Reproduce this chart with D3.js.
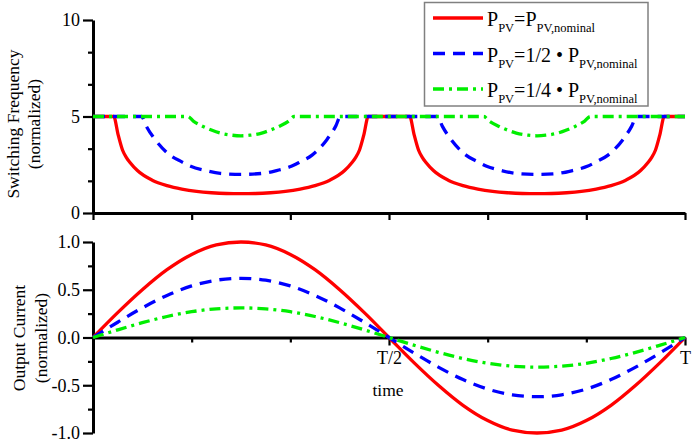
<!DOCTYPE html>
<html><head><meta charset="utf-8">
<script src="https://cdn.jsdelivr.net/npm/d3@7/dist/d3.min.js"></script>
<style>
body{margin:0;background:#fff}
svg{display:block}
text{font-family:"Liberation Serif","Times New Roman",serif;fill:#000}
</style>
</head><body>
<svg id="chart" width="700" height="448"></svg>
<script>
// ---------- data (time as fraction of period T) ----------
const timeRedTop = [0,0.035,0.0425,0.05,0.0565,0.0625,0.075,0.1,0.125,0.15,0.175,0.2,0.225,0.25,0.275,0.3,0.325,0.35,0.375,0.4,0.425,0.4375,0.4435,0.45,0.4575,0.465,0.5,
  0.535,0.5425,0.55,0.5565,0.5625,0.575,0.6,0.625,0.65,0.675,0.7,0.725,0.75,0.775,0.8,0.825,0.85,0.875,0.9,0.925,0.9375,0.9435,0.95,0.9575,0.965,1.0];
const freqRed = [5,5,4.05,3.25,2.87,2.62,2.2,1.70,1.42,1.24,1.12,1.05,1.01,1.00,1.01,1.05,1.12,1.24,1.42,1.70,2.2,2.62,2.87,3.25,4.05,5,5,
  5,4.05,3.25,2.87,2.62,2.2,1.70,1.42,1.24,1.12,1.05,1.01,1.00,1.01,1.05,1.12,1.24,1.42,1.70,2.2,2.62,2.87,3.25,4.05,5,5];

const timeBlueTop = [0,0.082,0.09,0.105,0.13,0.15,0.165,0.19,0.215,0.25,0.285,0.31,0.335,0.35,0.37,0.395,0.41,0.418,0.5,
  0.582,0.59,0.605,0.63,0.65,0.665,0.69,0.715,0.75,0.785,0.81,0.835,0.85,0.87,0.895,0.91,0.918,1.0];
const freqBlue = [5,5,4.5,3.8,3.0,2.65,2.42,2.2,2.05,2.0,2.05,2.2,2.42,2.65,3.0,3.8,4.5,5,5,
  5,4.5,3.8,3.0,2.65,2.42,2.2,2.05,2.0,2.05,2.2,2.42,2.65,3.0,3.8,4.5,5,5];

const timeGreenTop = [0,0.16,0.17,0.185,0.2,0.215,0.235,0.25,0.265,0.285,0.3,0.315,0.33,0.34,0.5,
  0.66,0.67,0.685,0.7,0.715,0.735,0.75,0.765,0.785,0.8,0.815,0.83,0.84,1.0];
const freqGreen = [5,5,4.75,4.5,4.3,4.14,4.03,4.0,4.03,4.14,4.3,4.5,4.75,5,5,
  5,4.75,4.5,4.3,4.14,4.03,4.0,4.03,4.14,4.3,4.5,4.75,5,5];

const timeBottom = [0,0.0417,0.0833,0.125,0.1667,0.2083,0.25,0.2917,0.3333,0.375,0.4167,0.4583,0.5,
  0.5417,0.5833,0.625,0.6667,0.7083,0.75,0.7917,0.8333,0.875,0.9167,0.9583,1.0];
const currentRed = [0,0.26,0.50,0.71,0.87,0.97,1.00,0.97,0.87,0.71,0.50,0.26,0,
  -0.26,-0.50,-0.71,-0.87,-0.97,-1.00,-0.97,-0.87,-0.71,-0.50,-0.26,0];
const currentBlue = [0,0.16,0.31,0.44,0.54,0.60,0.62,0.60,0.54,0.44,0.31,0.16,0,
  -0.16,-0.31,-0.44,-0.54,-0.60,-0.62,-0.60,-0.54,-0.44,-0.31,-0.16,0];
const currentGreen = [0,0.08,0.155,0.22,0.27,0.30,0.31,0.30,0.27,0.22,0.155,0.08,0,
  -0.08,-0.155,-0.22,-0.27,-0.30,-0.31,-0.30,-0.27,-0.22,-0.155,-0.08,0];

const xTicks = [0,1/6,2/6,3/6,4/6,5/6,1];
const xMajorTicks = [0.5,1];
const xMajorLabels = ["T/2","T"];
const yTopMajor = [0,5,10];
const yTopMinor = [5/3,10/3,20/3,25/3];
const yBotMajor = [-1,-0.5,0,0.5,1];
const yBotLabels = ["-1.0","-0.5","0.0","0.5","1.0"];
const yBotMinor = [-0.75,-0.25,0.25,0.75];

const seriesNames = ["=P", "=1/2 \u2022 P", "=1/4 \u2022 P"];
const seriesColors = ["#ff0000","#0000ff","#00ee00"];
const seriesDash = [null, "12,8", "11,5,3,5"];

// ---------- drawing ----------
const svg = d3.select("#chart");
const x = d3.scaleLinear().domain([0,1]).range([93,685]);
const yTop = d3.scaleLinear().domain([0,10]).range([213,20]);
const yBot = d3.scaleLinear().domain([-1,1]).range([433,242]);

function styleAxis(g){
  g.select(".domain").attr("stroke","#000").attr("stroke-width",3);
  g.selectAll(".tick line").attr("stroke","#000").attr("stroke-width",2.2);
  g.selectAll(".tick text").attr("font-size",18).attr("font-family",'"Liberation Serif","Times New Roman",serif').attr("fill","#000");
}

// top panel axes
svg.append("g").attr("transform","translate(0,213)")
  .call(d3.axisBottom(x).tickValues(xTicks).tickSize(7).tickSizeOuter(0).tickFormat(""))
  .call(styleAxis);
svg.append("g").attr("transform","translate(93,0)")
  .call(d3.axisLeft(yTop).tickValues(yTopMinor).tickSize(5).tickSizeOuter(0).tickFormat(""))
  .call(g=>g.select(".domain").remove()).call(styleAxis);
svg.append("g").attr("transform","translate(93,0)")
  .call(d3.axisLeft(yTop).tickValues(yTopMajor).tickSize(10).tickPadding(3).tickSizeOuter(0).tickFormat(d3.format("d")))
  .call(styleAxis);

// bottom panel axes
svg.append("g").attr("transform",`translate(0,${yBot(0)})`)
  .call(d3.axisBottom(x).tickValues(xTicks.filter(t=>!xMajorTicks.includes(t))).tickSize(5).tickSizeOuter(0).tickFormat(""))
  .call(styleAxis);
svg.append("g").attr("transform",`translate(0,${yBot(0)})`)
  .call(d3.axisBottom(x).tickValues(xMajorTicks).tickSize(8).tickPadding(6).tickSizeOuter(0)
    .tickFormat((d,i)=>xMajorLabels[i]))
  .call(g=>g.select(".domain").remove()).call(styleAxis);
svg.append("g").attr("transform","translate(93,0)")
  .call(d3.axisLeft(yBot).tickValues(yBotMinor).tickSize(5).tickSizeOuter(0).tickFormat(""))
  .call(g=>g.select(".domain").remove()).call(styleAxis);
svg.append("g").attr("transform","translate(93,0)")
  .call(d3.axisLeft(yBot).tickValues(yBotMajor).tickSize(10).tickPadding(3).tickSizeOuter(0)
    .tickFormat((d,i)=>yBotLabels[i]))
  .call(styleAxis);

// curves
const topSeries = [d3.zip(timeRedTop,freqRed), d3.zip(timeBlueTop,freqBlue), d3.zip(timeGreenTop,freqGreen)];
const botSeries = [d3.zip(timeBottom,currentRed), d3.zip(timeBottom,currentBlue), d3.zip(timeBottom,currentGreen)];
const lineTop = d3.line().x(d=>x(d[0])).y(d=>yTop(d[1])).curve(d3.curveMonotoneX);
const lineBot = d3.line().x(d=>x(d[0])).y(d=>yBot(d[1])).curve(d3.curveMonotoneX);
topSeries.forEach((s,i)=>{
  svg.append("path").attr("d",lineTop(s)).attr("fill","none")
    .attr("stroke",seriesColors[i]).attr("stroke-width",3.3)
    .attr("stroke-dasharray",seriesDash[i]);
});
botSeries.forEach((s,i)=>{
  svg.append("path").attr("d",lineBot(s)).attr("fill","none")
    .attr("stroke",seriesColors[i]).attr("stroke-width",3.3)
    .attr("stroke-dasharray",seriesDash[i]);
});

// axis titles
const t1 = svg.append("g").attr("transform","translate(0,124) rotate(-90)");
t1.append("text").attr("x",0).attr("y",19).attr("text-anchor","middle").attr("font-size",17.5).text("Switching Frequency");
t1.append("text").attr("x",0).attr("y",40).attr("text-anchor","middle").attr("font-size",17.5).text("(normalized)");
const t2 = svg.append("g").attr("transform","translate(0,338) rotate(-90)");
t2.append("text").attr("x",0).attr("y",25).attr("text-anchor","middle").attr("font-size",17.5).text("Output Current");
t2.append("text").attr("x",0).attr("y",47).attr("text-anchor","middle").attr("font-size",17.5).text("(normalized)");
svg.append("text").attr("x",388).attr("y",396).attr("text-anchor","middle").attr("font-size",17.5).text("time");

// legend
const lg = svg.append("g");
lg.append("rect").attr("x",424.5).attr("y",2.5).attr("width",223.5).attr("height",103.5)
  .attr("fill","#fff").attr("stroke","#808080").attr("stroke-width",1.5);
const rowY = [18,53.5,89];
seriesNames.forEach((name,i)=>{
  lg.append("line").attr("x1",433).attr("x2",483).attr("y1",rowY[i]).attr("y2",rowY[i])
    .attr("stroke",seriesColors[i]).attr("stroke-width",3.3).attr("stroke-dasharray",seriesDash[i]);
  const t = lg.append("text").attr("x",487).attr("y",rowY[i]+8).attr("font-size",20);
  t.append("tspan").text("P");
  t.append("tspan").attr("font-size",12.5).attr("dy",6).text("PV");
  t.append("tspan").attr("dy",-6).text(name);
  t.append("tspan").attr("font-size",12.5).attr("dy",6).text("PV,nominal");
});
</script>
</body></html>
